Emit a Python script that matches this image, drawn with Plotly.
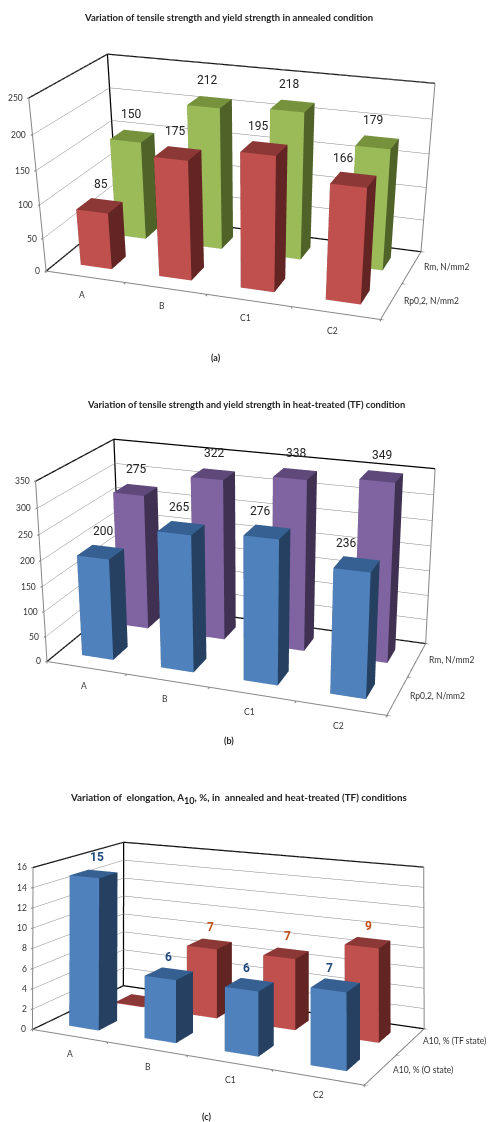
import plotly.graph_objects as go

categories = ["A", "B", "C1", "C2"]

series_a = ["Rp0,2, N/mm2", "Rm, N/mm2"]
rp_annealed = [85, 175, 195, 166]
rm_annealed = [150, 212, 218, 179]
ticks_a = [0, 50, 100, 150, 200, 250]

series_b = ["Rp0,2, N/mm2", "Rm, N/mm2"]
rp_treated = [200, 265, 276, 236]
rm_treated = [275, 322, 338, 349]
ticks_b = [0, 50, 100, 150, 200, 250, 300, 350]

series_c = ["A10, % (O state)", "A10, % (TF state)"]
a10_o = [15, 6, 6, 7]
a10_tf = [0.05, 7, 7, 9]
ticks_c = [0, 2, 4, 6, 8, 10, 12, 14, 16]

RED = ("#C0504D", "#632523", "#8C3836")
GREEN = ("#9BBB59", "#4F6228", "#76923C")
BLUE = ("#4F81BD", "#254061", "#376092")
PURPLE = ("#8064A2", "#403152", "#5F497A")

FONT = "Lato"
LABEL_FONT = "Roboto"
TW, TH = 501, 1122
VIEW_H = 1000
charts = [
    dict(scene="scene", series=series_a, vals=[rp_annealed, rm_annealed], ticks=ticks_a,
         cols=[RED, GREEN], dom=[1 - VIEW_H / TH, 1.0],
         eye=(1.142, -3.169, 1.149), center=(0.109, -0.19, -0.955), asp=(1, 0.502, 0.496),
         lab=dict(bold=False, colors=["#222222", "#222222"], yshift=13,
                  dx=[(1, -3.7), (-1, -1.2)]), catshift=-3),
    dict(scene="scene2", series=series_b, vals=[rp_treated, rm_treated], ticks=ticks_b,
         cols=[BLUE, PURPLE], dom=[(1 - VIEW_H / TH) / 2, (1 + VIEW_H / TH) / 2],
         eye=(1.112, -3.029, 1.192), center=(0.01, 0.068, -0.007), asp=(1, 0.49, 0.539),
         lab=dict(bold=False, colors=["#222222", "#222222"], yshift=12,
                  dx=[(2, -4.3), (1, 0)]), catshift=-2),
    dict(scene="scene3", series=series_c, vals=[a10_o, a10_tf], ticks=ticks_c,
         cols=[BLUE, RED], dom=[0.0, VIEW_H / TH],
         eye=(1.554, -3.082, 0.862), center=(-0.538, 1.261, 0.954), asp=(1, 0.488, 0.458),
         lab=dict(bold=True, colors=["#1F497D", "#C0501A"], yshift=8,
                  dx=[(3, -3), (1, 0)]), catshift=1),
]

fig = go.Figure()


def bars_mesh(values, s, cols, scene, bw=0.4, bd=0.4):
    xs, ys, zs, i, j, k, fc = [], [], [], [], [], [], []
    front, side, top = cols
    for c, v in enumerate(values):
        x0, x1 = c + 0.5 - bw / 2, c + 0.5 + bw / 2
        y0, y1 = s + 0.5 - bd / 2, s + 0.5 + bd / 2
        b = len(xs)
        xs += [x0, x1, x1, x0, x0, x1, x1, x0]
        ys += [y0, y0, y1, y1, y0, y0, y1, y1]
        zs += [0, 0, 0, 0, v, v, v, v]
        faces = [
            (0, 1, 5, front), (0, 5, 4, front),
            (1, 2, 6, side), (1, 6, 5, side),
            (4, 5, 6, top), (4, 6, 7, top),
            (2, 3, 7, side), (2, 7, 6, side),
            (3, 0, 4, side), (3, 4, 7, side),
            (0, 2, 1, side), (0, 3, 2, side),
        ]
        for a, bb, cc, col in faces:
            i.append(b + a); j.append(b + bb); k.append(b + cc); fc.append(col)
    return go.Mesh3d(x=xs, y=ys, z=zs, i=i, j=j, k=k, facecolor=fc, flatshading=True,
                     lighting=dict(ambient=1, diffuse=0, specular=0, fresnel=0, roughness=1),
                     hoverinfo="skip", showscale=False, scene=scene)


def line(xs, ys, zs, color, width, scene):
    return go.Scatter3d(x=xs, y=ys, z=zs, mode="lines", line=dict(color=color, width=width),
                        hoverinfo="skip", showlegend=False, scene=scene)


def tick(x, y, z, ax, ay):
    return dict(x=x, y=y, z=z, text=" ", showarrow=True, arrowhead=0, arrowwidth=1, arrowcolor="#868686",
                ax=ax, ay=ay, standoff=0, startstandoff=0, font=dict(size=1))


layout_scenes = {}
small = dict(family=FONT, size=8.5, color="#333333")
for ch in charts:
    sc = ch["scene"]
    nx, ny, zmax = len(categories), len(ch["series"]), ch["ticks"][-1]
    for s, vals in enumerate(ch["vals"]):
        fig.add_trace(bars_mesh(vals, s, ch["cols"][s], sc))
    N = None
    fig.add_trace(line([0, 0, nx, N, 0, 0, nx, N, 0, 0],
                       [0, ny, ny, N, ny, ny, ny, N, 0, ny],
                       [0, 0, 0, N, 0, zmax, zmax, N, zmax, zmax], "#000000", 2.5, sc))
    fig.add_trace(line([0, 0, N, 0, nx, nx, nx, N, nx, nx],
                       [0, 0, N, 0, 0, ny, ny, N, ny, ny],
                       [0, zmax, N, 0, 0, 0, zmax, N, 0, 0], "#868686", 2, sc))
    ann = []
    for t in ch["ticks"]:
        ann.append(tick(0, 0, t, -3, 0))
    for c in range(nx + 1):
        ann.append(tick(c, 0, 0, 0, 4))
    for s in range(ny + 1):
        ann.append(tick(nx, s, 0, 3, 0))
    lab = ch["lab"]
    for s, vals in enumerate(ch["vals"]):
        d0, d1 = lab["dx"][s]
        for c, v in enumerate(vals):
            if v < 1:
                continue
            ann.append(dict(x=c + 0.5, y=s + 0.5, z=v, text=f"<b>{v}</b>" if lab["bold"] else str(v),
                            showarrow=False, yanchor="bottom", yshift=lab["yshift"], xshift=d0 + d1 * c,
                            font=dict(family=LABEL_FONT, size=12, color=lab["colors"][s])))
    for t in ch["ticks"]:
        ann.append(dict(x=0, y=0, z=t, text=str(t), showarrow=False, xanchor="right", xshift=-4, font=small))
    for c, name in enumerate(categories):
        ann.append(dict(x=c + 0.5, y=0, z=0, text=name, showarrow=False, yshift=-18, xshift=ch["catshift"],
                        font=small))
    for s, name in enumerate(ch["series"]):
        ann.append(dict(x=nx, y=s + 0.5, z=0, text=name, showarrow=False, xanchor="left", xshift=10, font=small))
    axis = dict(showbackground=False, showgrid=False, zeroline=False, showline=False, showticklabels=False,
                showspikes=False, title=dict(text=""), ticks="outside", ticklen=3, tickcolor="#868686")
    layout_scenes[sc] = dict(
        domain=dict(x=[0, 1], y=ch["dom"]),
        aspectmode="manual",
        aspectratio=dict(x=ch["asp"][0], y=ch["asp"][1], z=ch["asp"][2]),
        camera=dict(eye=dict(x=ch["eye"][0], y=ch["eye"][1], z=ch["eye"][2]),
                    center=dict(x=ch["center"][0], y=ch["center"][1], z=ch["center"][2]),
                    up=dict(x=0, y=0, z=1), projection=dict(type="perspective")),
        xaxis=dict(axis, range=[0, nx], tickvals=list(range(nx + 1))),
        yaxis=dict(axis, range=[0, ny], tickvals=list(range(ny + 1))),
        zaxis=dict(axis, range=[0, zmax], tickvals=ch["ticks"], showgrid=True, gridcolor="#868686", gridwidth=1),
        annotations=ann,
    )

sub10 = '<span style="font-size:13px"><sub>10</sub></span>'
titles = [
    ("Variation of tensile strength and yield strength in annealed condition", 228.5, 18, 9.5),
    ("Variation of tensile strength and yield strength in heat-treated (TF) condition", 245.7, 404, 9.4),
    (f"Variation of&nbsp; elongation, A{sub10}, %, in&nbsp; annealed and heat-treated (TF) conditions", 238.3, 798, 9.8),
    ("(a)", 215.7, 357.7, 9),
    ("(b)", 229, 740, 9),
    ("(c)", 206.7, 1116, 9),
]
paper = [dict(text=f"<b>{t}</b>", x=x / TW, y=1 - y / TH, xref="paper", yref="paper", showarrow=False,
              xanchor="center", yanchor="middle",
              font=dict(family=FONT, size=s, color="#222222")) for t, x, y, s in titles]

fig.update_layout(width=TW, height=TH, margin=dict(l=0, r=0, t=0, b=0), autosize=False,
                  paper_bgcolor="white", showlegend=False, annotations=paper, hovermode=False,
                  **layout_scenes)
fig.write_html("out.html", config={"displayModeBar": False},
               post_script="document.body.style.margin='0';")
